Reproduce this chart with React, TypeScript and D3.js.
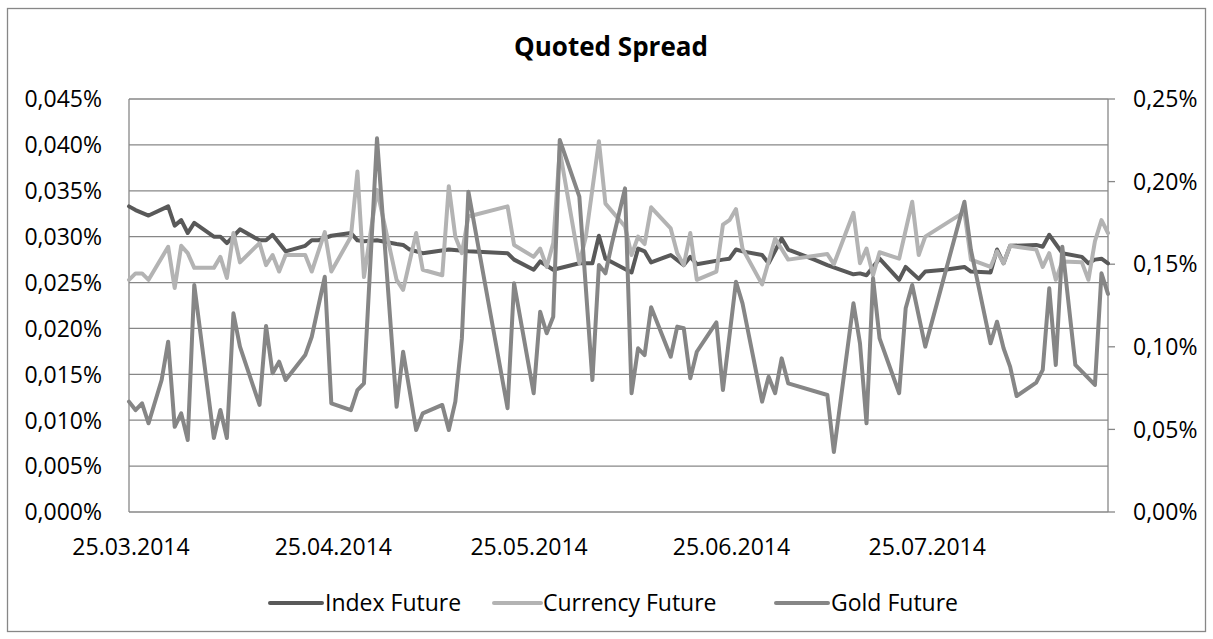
import React from 'react';
import * as d3 from 'd3';

// Index Future (left axis, %)
const indexDates = [
  '25.03.2014', '26.03.2014', '28.03.2014', '31.03.2014', '01.04.2014', '02.04.2014', '03.04.2014', '04.04.2014',
  '07.04.2014', '08.04.2014', '09.04.2014', '11.04.2014', '14.04.2014', '15.04.2014', '16.04.2014', '18.04.2014',
  '21.04.2014', '22.04.2014', '23.04.2014', '25.04.2014', '28.04.2014', '29.04.2014', '30.04.2014', '02.05.2014',
  '05.05.2014', '06.05.2014', '07.05.2014', '09.05.2014', '13.05.2014', '16.05.2014', '22.05.2014', '23.05.2014',
  '26.05.2014', '27.05.2014', '29.05.2014', '02.06.2014', '04.06.2014', '05.06.2014', '06.06.2014', '10.06.2014',
  '11.06.2014', '12.06.2014', '13.06.2014', '16.06.2014', '18.06.2014', '19.06.2014', '20.06.2014', '24.06.2014',
  '25.06.2014', '26.06.2014', '27.06.2014', '30.06.2014', '01.07.2014', '03.07.2014', '04.07.2014', '08.07.2014',
  '10.07.2014', '14.07.2014', '15.07.2014', '16.07.2014', '18.07.2014', '21.07.2014', '22.07.2014', '24.07.2014',
  '25.07.2014', '28.07.2014', '31.07.2014', '01.08.2014', '04.08.2014', '05.08.2014', '06.08.2014', '07.08.2014',
  '11.08.2014', '12.08.2014', '13.08.2014', '14.08.2014', '15.08.2014', '18.08.2014', '19.08.2014', '20.08.2014',
  '21.08.2014', '22.08.2014',
];
const indexValues = [
  0.0333, 0.0329, 0.0323, 0.0333, 0.0312, 0.0318, 0.0304, 0.0315,
  0.0300, 0.0300, 0.0293, 0.0308, 0.0296, 0.0296, 0.0302, 0.0284,
  0.0290, 0.0296, 0.0296, 0.0301, 0.0304, 0.0296, 0.0295, 0.0296,
  0.0292, 0.0291, 0.0286, 0.0282, 0.0286, 0.0284, 0.0282, 0.0275,
  0.0264, 0.0273, 0.0264, 0.0271, 0.0271, 0.0301, 0.0276, 0.0261,
  0.0287, 0.0284, 0.0272, 0.0280, 0.0269, 0.0278, 0.0270, 0.0275,
  0.0276, 0.0286, 0.0284, 0.0280, 0.0271, 0.0298, 0.0286, 0.0275,
  0.0269, 0.0259, 0.0260, 0.0258, 0.0276, 0.0253, 0.0267, 0.0254,
  0.0262, 0.0264, 0.0267, 0.0262, 0.0261, 0.0286, 0.0271, 0.0290,
  0.0291, 0.0289, 0.0302, 0.0292, 0.0282, 0.0278, 0.0271, 0.0275,
  0.0276, 0.0271,
];

// Currency Future (left axis, %)
const currencyDates = [
  '25.03.2014', '26.03.2014', '27.03.2014', '28.03.2014', '31.03.2014', '01.04.2014', '02.04.2014', '03.04.2014',
  '04.04.2014', '07.04.2014', '08.04.2014', '09.04.2014', '10.04.2014', '11.04.2014', '14.04.2014', '15.04.2014',
  '16.04.2014', '17.04.2014', '18.04.2014', '21.04.2014', '22.04.2014', '24.04.2014', '25.04.2014', '28.04.2014',
  '29.04.2014', '30.04.2014', '02.05.2014', '05.05.2014', '06.05.2014', '08.05.2014', '09.05.2014', '12.05.2014',
  '13.05.2014', '14.05.2014', '15.05.2014', '16.05.2014', '22.05.2014', '23.05.2014', '26.05.2014', '27.05.2014',
  '28.05.2014', '29.05.2014', '30.05.2014', '02.06.2014', '03.06.2014', '05.06.2014', '06.06.2014', '09.06.2014',
  '10.06.2014', '11.06.2014', '12.06.2014', '13.06.2014', '16.06.2014', '17.06.2014', '18.06.2014', '19.06.2014',
  '20.06.2014', '23.06.2014', '24.06.2014', '25.06.2014', '26.06.2014', '27.06.2014', '30.06.2014', '02.07.2014',
  '04.07.2014', '10.07.2014', '11.07.2014', '14.07.2014', '15.07.2014', '16.07.2014', '17.07.2014', '18.07.2014',
  '21.07.2014', '23.07.2014', '24.07.2014', '25.07.2014', '31.07.2014', '01.08.2014', '04.08.2014', '05.08.2014',
  '06.08.2014', '07.08.2014', '11.08.2014', '12.08.2014', '13.08.2014', '14.08.2014', '15.08.2014', '18.08.2014',
  '19.08.2014', '20.08.2014', '21.08.2014', '22.08.2014',
];
const currencyValues = [
  0.0253, 0.0260, 0.0260, 0.0253, 0.0289, 0.0244, 0.0290, 0.0282,
  0.0266, 0.0266, 0.0278, 0.0255, 0.0304, 0.0272, 0.0293, 0.0269,
  0.0280, 0.0262, 0.0280, 0.0280, 0.0262, 0.0305, 0.0262, 0.0300,
  0.0371, 0.0256, 0.0351, 0.0253, 0.0242, 0.0304, 0.0264, 0.0258,
  0.0355, 0.0300, 0.0282, 0.0322, 0.0333, 0.0291, 0.0278, 0.0287,
  0.0267, 0.0293, 0.0394, 0.0271, 0.0300, 0.0404, 0.0336, 0.0311,
  0.0280, 0.0300, 0.0292, 0.0332, 0.0309, 0.0282, 0.0269, 0.0304,
  0.0253, 0.0262, 0.0313, 0.0318, 0.0330, 0.0287, 0.0248, 0.0298,
  0.0275, 0.0281, 0.0270, 0.0326, 0.0271, 0.0287, 0.0258, 0.0283,
  0.0276, 0.0338, 0.0280, 0.0300, 0.0327, 0.0275, 0.0267, 0.0284,
  0.0271, 0.0290, 0.0286, 0.0267, 0.0282, 0.0253, 0.0273, 0.0272,
  0.0253, 0.0295, 0.0318, 0.0304,
];

// Gold Future (right axis, %)
const goldDates = [
  '25.03.2014', '26.03.2014', '27.03.2014', '28.03.2014', '30.03.2014', '31.03.2014', '01.04.2014', '02.04.2014',
  '03.04.2014', '04.04.2014', '07.04.2014', '08.04.2014', '09.04.2014', '10.04.2014', '11.04.2014', '14.04.2014',
  '15.04.2014', '16.04.2014', '17.04.2014', '18.04.2014', '21.04.2014', '22.04.2014', '24.04.2014', '25.04.2014',
  '28.04.2014', '29.04.2014', '30.04.2014', '02.05.2014', '05.05.2014', '06.05.2014', '08.05.2014', '09.05.2014',
  '12.05.2014', '13.05.2014', '14.05.2014', '15.05.2014', '16.05.2014', '22.05.2014', '23.05.2014', '26.05.2014',
  '27.05.2014', '28.05.2014', '29.05.2014', '30.05.2014', '02.06.2014', '04.06.2014', '05.06.2014', '06.06.2014',
  '07.06.2014', '09.06.2014', '10.06.2014', '11.06.2014', '12.06.2014', '13.06.2014', '16.06.2014', '17.06.2014',
  '18.06.2014', '19.06.2014', '20.06.2014', '23.06.2014', '24.06.2014', '26.06.2014', '27.06.2014', '30.06.2014',
  '01.07.2014', '02.07.2014', '03.07.2014', '04.07.2014', '10.07.2014', '11.07.2014', '14.07.2014', '15.07.2014',
  '16.07.2014', '17.07.2014', '18.07.2014', '21.07.2014', '22.07.2014', '23.07.2014', '25.07.2014', '31.07.2014',
  '01.08.2014', '04.08.2014', '05.08.2014', '06.08.2014', '07.08.2014', '08.08.2014', '11.08.2014', '12.08.2014',
  '13.08.2014', '14.08.2014', '15.08.2014', '17.08.2014', '20.08.2014', '21.08.2014', '22.08.2014',
];
const goldValues = [
  0.0668, 0.0617, 0.0658, 0.0537, 0.0799, 0.1031, 0.0516, 0.0597,
  0.0436, 0.1374, 0.0448, 0.0617, 0.0448, 0.1203, 0.1001, 0.0648,
  0.1126, 0.0840, 0.0910, 0.0799, 0.0950, 0.1061, 0.1424, 0.0658,
  0.0617, 0.0738, 0.0779, 0.2262, 0.0637, 0.0970, 0.0496, 0.0597,
  0.0648, 0.0496, 0.0668, 0.1051, 0.1939, 0.0628, 0.1384, 0.0719,
  0.1212, 0.1082, 0.1182, 0.2252, 0.1909, 0.0799, 0.1495, 0.1445,
  0.1627, 0.1959, 0.0719, 0.0991, 0.0950, 0.1239, 0.0940, 0.1122,
  0.1112, 0.0809, 0.0970, 0.1148, 0.0738, 0.1394, 0.1263, 0.0668,
  0.0819, 0.0719, 0.0930, 0.0779, 0.0708, 0.0363, 0.1263, 0.1021,
  0.0537, 0.1415, 0.1051, 0.0719, 0.1233, 0.1374, 0.1001, 0.1878,
  0.1586, 0.1021, 0.1152, 0.0991, 0.0880, 0.0702, 0.0783, 0.0860,
  0.1354, 0.0890, 0.1606, 0.0890, 0.0769, 0.1445, 0.1320,
];

const leftTicks = [0, 0.005, 0.01, 0.015, 0.02, 0.025, 0.03, 0.035, 0.04, 0.045];
const rightTicks = [0, 0.05, 0.1, 0.15, 0.2, 0.25];
const dateTicks = ['25.03.2014', '25.04.2014', '25.05.2014', '25.06.2014', '25.07.2014'];
const axisStart = '25.03.2014';
const axisEnd = '22.08.2014';

const parseDate = d3.utcParse('%d.%m.%Y');
const fmt = (v: number, digits: number) => v.toFixed(digits).replace('.', ',') + '%';

const FONT = '"Open Sans", "Noto Sans", sans-serif';
const GRID = '#878787';

export default function App() {
  const width = 1213;
  const height = 639;
  const plot = { left: 129, right: 1108, top: 99, bottom: 512 };

  const x = d3.scaleUtc()
    .domain([parseDate(axisStart) as Date, parseDate(axisEnd) as Date])
    .range([plot.left, plot.right]);
  const yLeft = d3.scaleLinear().domain([0, 0.045]).range([plot.bottom, plot.top]);
  const yRight = d3.scaleLinear().domain([0, 0.25]).range([plot.bottom, plot.top]);

  const series = [
    { name: 'Index Future', dates: indexDates, values: indexValues, y: yLeft, color: '#595959' },
    { name: 'Currency Future', dates: currencyDates, values: currencyValues, y: yLeft, color: '#b3b3b3' },
    { name: 'Gold Future', dates: goldDates, values: goldValues, y: yRight, color: '#868686' },
  ];

  const legendPos = [
    { line: [270, 322], text: 325 },
    { line: [494, 541], text: 543 },
    { line: [776, 828], text: 831 },
  ];

  return (
    <svg
      width={width}
      height={height}
      style={{ position: 'absolute', left: 0, top: 0, background: '#fff' }}
      fontFamily={FONT}
    >
      <rect x={7.5} y={8.5} width={1198} height={623} fill="#fff" stroke={GRID} strokeWidth={1.3} />

      <text x={611} y={56} textAnchor="middle" fontSize={26} fontWeight="bold" fill="#000">
        Quoted Spread
      </text>

      {/* gridlines on the left axis */}
      {leftTicks.map((t) => (
        <line key={'g' + t} x1={plot.left} x2={plot.right} y1={yLeft(t)} y2={yLeft(t)} stroke={GRID} strokeWidth={1.3} />
      ))}
      <line x1={plot.left} x2={plot.left} y1={plot.top} y2={plot.bottom} stroke={GRID} strokeWidth={1.3} />
      <line x1={plot.right} x2={plot.right} y1={plot.top} y2={plot.bottom} stroke={GRID} strokeWidth={1.3} />
      {rightTicks.map((t) => (
        <line key={'rt' + t} x1={plot.right} x2={plot.right + 7} y1={yRight(t)} y2={yRight(t)} stroke={GRID} strokeWidth={1.3} />
      ))}

      {leftTicks.map((t) => (
        <text key={'l' + t} x={102} y={yLeft(t)} dy="0.36em" textAnchor="end" fontSize={23} fill="#000">
          {fmt(t, 3)}
        </text>
      ))}
      {rightTicks.map((t) => (
        <text key={'r' + t} x={1133} y={yRight(t)} dy="0.36em" textAnchor="start" fontSize={23} fill="#000">
          {fmt(t, 2)}
        </text>
      ))}
      {dateTicks.map((d) => (
        <text key={d} x={x(parseDate(d) as Date) + 2} y={555} textAnchor="middle" fontSize={23} fill="#000">
          {d}
        </text>
      ))}

      {series.map((s) => {
        const pts = s.dates.map((d, i) => [x(parseDate(d) as Date), s.y(s.values[i])] as [number, number]);
        const path = d3.line()(pts) || '';
        return (
          <path key={s.name} d={path} fill="none" stroke={s.color} strokeWidth={4}
            strokeLinejoin="round" strokeLinecap="round" />
        );
      })}

      {series.map((s, i) => (
        <g key={'leg' + s.name}>
          <line x1={legendPos[i].line[0]} x2={legendPos[i].line[1]} y1={603} y2={603}
            stroke={s.color} strokeWidth={4} strokeLinecap="round" />
          <text x={legendPos[i].text} y={603} dy="0.36em" fontSize={23} fill="#000">
            {s.name}
          </text>
        </g>
      ))}
    </svg>
  );
}
